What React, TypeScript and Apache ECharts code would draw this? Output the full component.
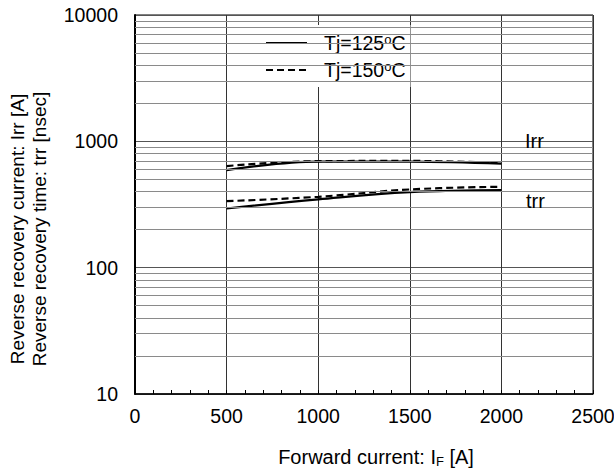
import React, { useEffect, useRef } from "react";
import * as echarts from "echarts";

const currents = [500, 1000, 1500, 2000];
const irr125 = [592, 690, 690, 665];
const irr150 = [637, 697, 700, 673];
const trr125 = [294, 347, 396, 411];
const trr150 = [336, 364, 416, 437];
const xTicks = [0, 500, 1000, 1500, 2000, 2500];
const yMinorGrid = [
  20, 30, 40, 50, 60, 70, 80, 90,
  200, 300, 400, 500, 600, 700, 800, 900,
  2000, 3000, 4000, 5000, 6000, 7000, 8000, 9000,
];
const name125 = "Tj=125oC";
const name150 = "Tj=150oC";
const curveLabels = ["Irr", "trr"];

const FONT = "Liberation Sans, Arial, sans-serif";

function pairs(ys: number[]) {
  return currents.map((x, i) => [x, ys[i]]);
}

export default function App() {
  const ref = useRef<HTMLDivElement>(null);
  useEffect(() => {
    if (!ref.current) return;
    const chart = echarts.init(ref.current, undefined, { renderer: "svg" });
    const solid = { color: "#000", width: 2.2, type: "solid" as const };
    const dashed = { color: "#000", width: 2.2, type: [7, 4] as any };
    const mkLine = (name: string, ys: number[], ls: any) => ({
      type: "line",
      name,
      data: pairs(ys),
      smooth: 0.4,
      symbol: "none",
      showSymbol: false,
      lineStyle: ls,
      itemStyle: { color: "#000" },
      z: 3,
    });
    chart.setOption({
      animation: false,
      textStyle: { fontFamily: FONT, color: "#000" },
      grid: {
        left: 135,
        right: 21,
        top: 15,
        bottom: 76,
        containLabel: false,
        outerBoundsMode: "none",
        show: true,
        borderColor: "#000",
        borderWidth: 1,
        backgroundColor: "transparent",
      },
      legend: {
        data: [name125, name150],
        orient: "vertical",
        left: 246,
        top: 25,
        backgroundColor: "#fff",
        padding: [8, 5, 7, 19],
        itemWidth: 41,
        itemHeight: 14,
        itemGap: 7,
        selectedMode: false,
        itemStyle: { color: "transparent", borderColor: "transparent", borderWidth: 0, opacity: 0 },
        formatter: (n: string) => n.replace(/^(.*)o(C)$/, "{n|$1}{sup|o}{n|$2}"),
        textStyle: {
          fontFamily: FONT,
          color: "#000",
          padding: [0, 0, 0, 12],
          rich: {
            n: { fontSize: 19.5, fontFamily: FONT, color: "#000", lineHeight: 20 },
            sup: { fontSize: 13, fontFamily: FONT, color: "#000", lineHeight: 13, verticalAlign: "top" },
          },
        },
      },
      xAxis: {
        type: "value",
        min: 0,
        max: 2500,
        interval: 500,
        name: "{n|Forward current: I}{s|F}{n| [A]}",
        nameLocation: "middle",
        nameGap: 52,
        nameTextStyle: {
          fontSize: 20,
          fontFamily: FONT,
          color: "#000",
          padding: [0, 0, 0, 24],
          rich: {
            n: { fontSize: 20, fontFamily: FONT, color: "#000", lineHeight: 22 },
            s: { fontSize: 13, fontFamily: FONT, color: "#000", lineHeight: 16, verticalAlign: "bottom" },
          },
        },
        axisLine: { show: true, lineStyle: { color: "#000", width: 1.5 } },
        axisTick: { show: true, inside: true, length: 4, lineStyle: { color: "#000" } },
        minorTick: { show: true, splitNumber: 5, length: 4, lineStyle: { color: "#000" } },
        splitLine: { show: true, lineStyle: { color: "#333", width: 1 } },
        axisLabel: {
          fontSize: 19.5,
          fontFamily: FONT,
          color: "#000",
          margin: 12,
          formatter: (v: number) => (xTicks.includes(v) ? String(v) : ""),
        },
      },
      yAxis: {
        type: "log",
        logBase: 10,
        min: 10,
        max: 10000,
        name: "Reverse recovery current: Irr [A]\nReverse recovery time: trr [nsec]",
        nameLocation: "middle",
        nameRotate: 90,
        nameGap: 85,
        nameTextStyle: {
          fontSize: 19,
          fontFamily: FONT,
          color: "#000",
          lineHeight: 22,
          padding: [0, 49, 0, 0],
        },
        axisLine: { show: true, lineStyle: { color: "#000", width: 2 } },
        axisTick: { show: false },
        splitLine: { show: true, lineStyle: { color: "#555", width: 1 } },
        axisLabel: {
          fontSize: 19.5,
          fontFamily: FONT,
          color: "#000",
          margin: 17,
          formatter: (v: number) => String(v),
        },
      },
      series: [
        {
          type: "line",
          name: "grid",
          data: [],
          z: 1,
          silent: true,
          markLine: {
            silent: true,
            symbol: "none",
            label: { show: false },
            lineStyle: { color: "#8a8a8a", width: 1, type: "solid" },
            data: yMinorGrid.map((v) => ({ yAxis: v })),
          },
        },
        mkLine(name125, irr125, solid),
        mkLine(name150, irr150, dashed),
        mkLine(name125, trr125, solid),
        mkLine(name150, trr150, dashed),
      ],
      graphic: [
        {
          type: "text",
          x: 525,
          y: 141,
          z: 10,
          style: { text: curveLabels[0], fontSize: 20, fontFamily: FONT, fill: "#000", verticalAlign: "middle" },
        },
        {
          type: "text",
          x: 526,
          y: 201,
          z: 10,
          style: { text: curveLabels[1], fontSize: 20, fontFamily: FONT, fill: "#000", verticalAlign: "middle" },
        },
      ],
    });
    return () => chart.dispose();
  }, []);
  return (
    <div
      ref={ref}
      style={{ position: "fixed", left: 0, top: 0, width: 614, height: 470, background: "#fff" }}
    />
  );
}
